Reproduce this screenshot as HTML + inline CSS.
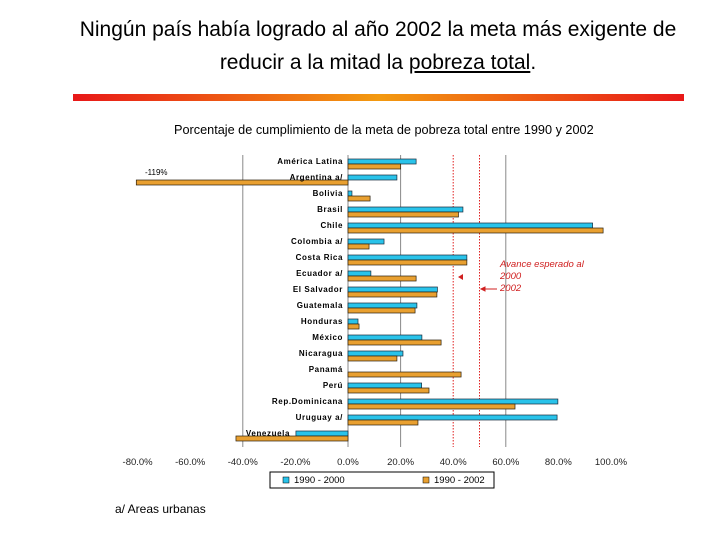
<!DOCTYPE html>
<html><head><meta charset="utf-8"><style>
body{margin:0;background:#fff;width:720px;height:540px;overflow:hidden;font-family:"Liberation Sans",sans-serif}
.t{position:absolute;left:0;width:756px;text-align:center;font-size:21px;color:#000;white-space:nowrap}
</style></head><body>
<div class="t" style="top:18px">Ningún país había logrado al año 2002 la meta más exigente de</div>
<div class="t" style="top:51px">reducir a la mitad la <u>pobreza total</u>.</div>
<div style="position:absolute;left:73px;top:94px;width:611px;height:7px;background:linear-gradient(90deg,#e81818,#f39a10 50%,#e81818)"></div>
<div style="position:absolute;left:174px;top:123px;font-size:12.7px;white-space:nowrap">Porcentaje de cumplimiento de la meta de pobreza total entre 1990 y 2002</div>
<div style="position:absolute;left:115px;top:502px;font-size:12px">a/ Areas urbanas</div>
<svg id="c" width="720" height="540" style="position:absolute;left:0;top:0"></svg>
<script>
const categories=["América Latina","Argentina a/","Bolivia","Brasil","Chile","Colombia a/","Costa Rica","Ecuador a/","El Salvador","Guatemala","Honduras","México","Nicaragua","Panamá","Perú","Rep.Dominicana","Uruguay a/","Venezuela"];
const s2000=[25.9,18.6,1.5,43.7,93,13.7,45.2,8.7,34,26.2,3.8,28.1,20.9,0,28,79.8,79.5,-19.8];
const s2002=[20,-119,8.4,42,97,8,45.2,25.9,33.8,25.5,4.2,35.4,18.6,43,30.8,63.5,26.6,-42.6];
const ticks=[-80,-60,-40,-20,0,20,40,60,80,100];
const grid=[-40,20,60];
const targets=[40,50];
const NS="http://www.w3.org/2000/svg",svg=document.getElementById('c');
const x=v=>348+Math.max(v,-80.5)*2.63;
const yc=i=>165+16*i;
function el(t,a){const e=document.createElementNS(NS,t);for(const k in a)e.setAttribute(k,a[k]);svg.appendChild(e);return e;}
grid.forEach(g=>{const e=el('line',{x1:x(g),x2:x(g),y1:155,y2:447,stroke:'#888','stroke-width':1});

});
targets.forEach(g=>{const e=el('line',{x1:x(g),x2:x(g),y1:155,y2:447,stroke:'#e02020','stroke-width':1,'stroke-dasharray':'1.5,1.5'});

});
const ax=el('line',{x1:348,x2:348,y1:155,y2:447,stroke:'#888'});


categories.forEach((c,i)=>{
 const a=s2000[i],b=s2002[i];
 if(a!==0){const r=el('rect',{x:Math.min(x(0),x(a)),y:yc(i)-6,width:Math.abs(x(a)-x(0)),height:5,fill:'#29c3ea',stroke:'#1a2a3a','stroke-width':0.7});
 
 }
 const r2=el('rect',{x:Math.min(x(0),x(b)),y:yc(i)-1,width:Math.abs(x(b)-x(0)),height:5,fill:'#e9a030',stroke:'#2a2010','stroke-width':0.7});
 
 
 const lx=i===17?290:343;
 const t=el('text',{x:lx,y:yc(i)-1,'text-anchor':'end','font-size':8,'font-weight':'bold','letter-spacing':'0.6'});t.textContent=c;
 
 
});
const n=el('text',{x:145,y:175,'font-size':8});n.textContent='-119%';


ticks.forEach(v=>{const t=el('text',{x:x(v),y:465,'text-anchor':'middle','font-size':9.5,fill:'#222'});t.textContent=v.toFixed(1)+'%';

});
[['Avance esperado al',500,267],['2000',500,279],['2002',500,291]].forEach(a=>{const t=el('text',{x:a[1],y:a[2],'font-size':9.5,'font-style':'italic',fill:'#d02020'});t.textContent=a[0];

});
const ar=el('polygon',{points:'458,277 463,274 463,280',fill:'#d02020'});


const ar2=el('path',{d:'M481,289 L497,289 M481,289 L485,287 L485,291 Z',stroke:'#d02020',fill:'#d02020'});


const lg=el('rect',{x:270,y:472,width:224,height:16,fill:'#fff',stroke:'#000'});


[[283,'#29c3ea','1990 - 2000'],[423,'#e9a030','1990 - 2002']].forEach(l=>{
 const r=el('rect',{x:l[0],y:477,width:6,height:6,fill:l[1],stroke:'#000','stroke-width':0.5});
 
 
 const t=el('text',{x:l[0]+11,y:483,'font-size':9.5});t.textContent=l[2];
 
 
});
</script>
</body></html>
